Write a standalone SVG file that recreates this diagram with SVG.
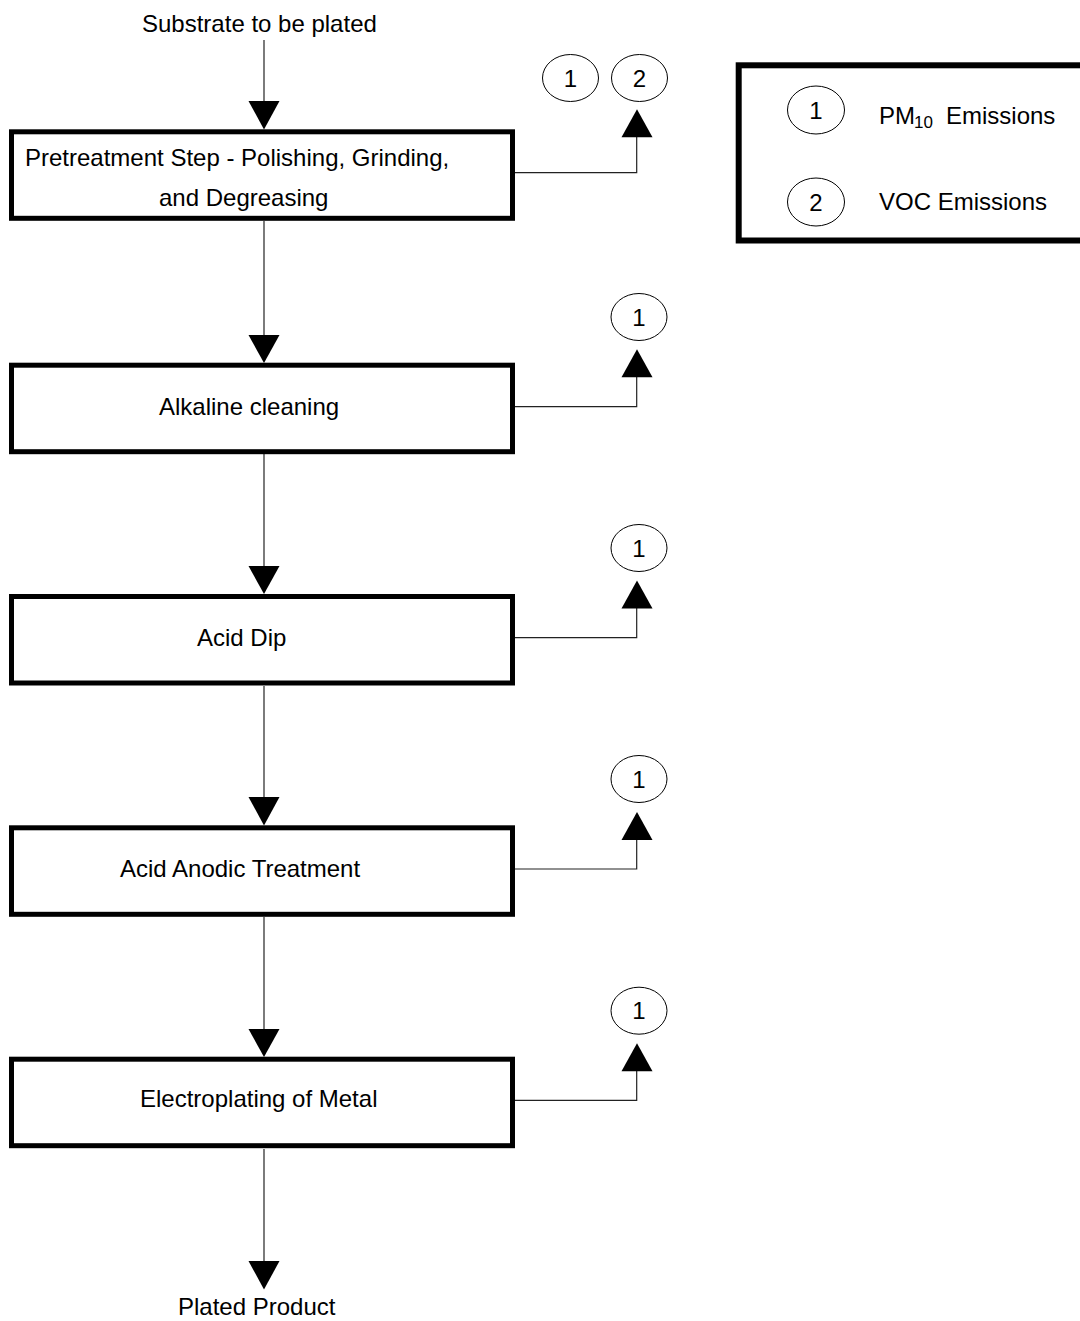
<svg xmlns="http://www.w3.org/2000/svg" width="1080" height="1321" viewBox="0 0 1080 1321">
<style>
text{font-family:"Liberation Sans",Arial,sans-serif;font-size:24px;fill:#000}
.box{fill:#fff;stroke:#000;stroke-width:5}
.circ{fill:#fff;stroke:#000;stroke-width:1}
.flow{fill:none;stroke:#444;stroke-width:1.4}
.out{fill:none;stroke:#222;stroke-width:1.2}
.head{fill:#000}
.num{text-anchor:middle}
</style>
<rect width="1080" height="1321" fill="#fff"/>
<g id="connectors">
<line class="flow" x1="264" y1="40" x2="264" y2="104"/>
<polygon class="head" points="248.5,101 279.5,101 264,129.5"/>
<line class="flow" x1="264" y1="221" x2="264" y2="338"/>
<polygon class="head" points="248.5,335 279.5,335 264,363"/>
<line class="flow" x1="264" y1="454" x2="264" y2="569"/>
<polygon class="head" points="248.5,566 279.5,566 264,594"/>
<line class="flow" x1="264" y1="686" x2="264" y2="800"/>
<polygon class="head" points="248.5,797 279.5,797 264,825.5"/>
<line class="flow" x1="264" y1="917" x2="264" y2="1032"/>
<polygon class="head" points="248.5,1029 279.5,1029 264,1057"/>
<line class="flow" x1="264" y1="1149" x2="264" y2="1264"/>
<polygon class="head" points="248.5,1261 279.5,1261 264,1289.5"/>
<polyline class="out" points="515,172.7 636.7,172.7 636.7,135"/>
<polygon class="head" points="621.5,137.3 652.5,137.3 637,109.3"/>
<polyline class="out" points="515,406.7 636.7,406.7 636.7,375"/>
<polygon class="head" points="621.5,377.3 652.5,377.3 637,349.3"/>
<polyline class="out" points="515,637.7 636.7,637.7 636.7,606"/>
<polygon class="head" points="621.5,608.6 652.5,608.6 637,580.6"/>
<polyline class="out" points="515,869 636.7,869 636.7,838"/>
<polygon class="head" points="621.5,840 652.5,840 637,812"/>
<polyline class="out" points="515,1100.4 636.7,1100.4 636.7,1069"/>
<polygon class="head" points="621.5,1071.3 652.5,1071.3 637,1043.3"/>
</g>
<g id="start"><text x="142" y="31.5">Substrate to be plated</text></g>
<g id="end"><text x="178" y="1315">Plated Product</text></g>
<g id="pretreatment">
<rect class="box" x="11.5" y="131.8" width="501" height="86.5"/>
<text x="25" y="166">Pretreatment Step - Polishing, Grinding,</text>
<text x="159" y="206">and Degreasing</text>
</g>
<g id="alkaline">
<rect class="box" x="11.5" y="365.2" width="501" height="86.5"/>
<text x="159" y="415">Alkaline cleaning</text>
</g>
<g id="aciddip">
<rect class="box" x="11.5" y="596.5" width="501" height="86.5"/>
<text x="197" y="646">Acid Dip</text>
</g>
<g id="anodic">
<rect class="box" x="11.5" y="827.8" width="501" height="86.5"/>
<text x="120" y="877">Acid Anodic Treatment</text>
</g>
<g id="electroplating">
<rect class="box" x="11.5" y="1059.2" width="501" height="86.5"/>
<text x="140" y="1107">Electroplating of Metal</text>
</g>
<g id="e1a"><ellipse class="circ" cx="570.5" cy="78" rx="28" ry="23.5"/><text class="num" x="570.5" y="86.5">1</text></g>
<g id="e1b"><ellipse class="circ" cx="639.5" cy="78" rx="28" ry="23.5"/><text class="num" x="639.5" y="86.5">2</text></g>
<g id="e2"><ellipse class="circ" cx="639" cy="317" rx="28" ry="23.5"/><text class="num" x="639" y="325.5">1</text></g>
<g id="e3"><ellipse class="circ" cx="639" cy="548" rx="28" ry="23.5"/><text class="num" x="639" y="556.5">1</text></g>
<g id="e4"><ellipse class="circ" cx="639" cy="779" rx="28" ry="23.5"/><text class="num" x="639" y="787.5">1</text></g>
<g id="e5"><ellipse class="circ" cx="639" cy="1010.7" rx="28" ry="23.5"/><text class="num" x="639" y="1019.2">1</text></g>
<g id="legend">
<rect x="738.7" y="65.3" width="360" height="175.2" fill="#fff" stroke="#000" stroke-width="6"/>
<ellipse class="circ" cx="816" cy="110" rx="28.5" ry="24"/>
<text class="num" x="816" y="118.5">1</text>
<ellipse class="circ" cx="816" cy="202" rx="28.5" ry="24"/>
<text class="num" x="816" y="210.5">2</text>
<text x="879" y="124">PM<tspan x="914" y="128" font-size="17">10</tspan><tspan x="946" y="124">Emissions</tspan></text>
<text x="879" y="210">VOC Emissions</text>
</g>
</svg>
